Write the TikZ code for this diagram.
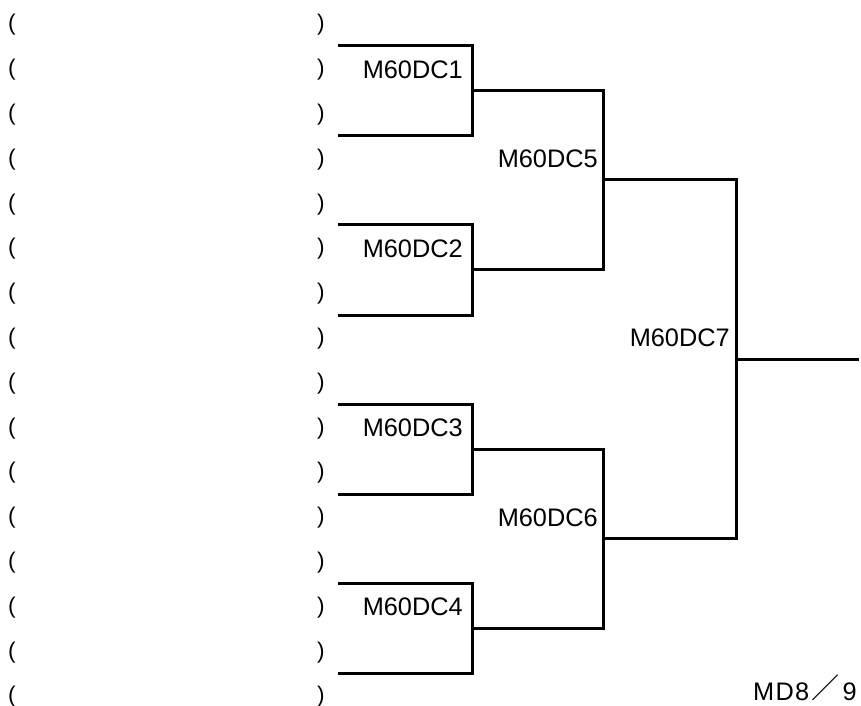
\documentclass[tikz,border=0pt]{standalone}
\usepackage{fontspec}
\setmainfont{Liberation Sans}
\newfontfamily\cjkfont{Noto Sans CJK JP}
\begin{document}
\begin{tikzpicture}[x=0.75pt,y=-0.75pt,
  bracket/.style={line width=2.25pt, line cap=rect, line join=miter},
  lbl/.style={anchor=east, inner sep=0pt, font=\fontsize{19}{21}\selectfont},
  parl/.style={inner sep=0pt, font=\fontsize{17}{20}\selectfont}]
\useasboundingbox (0,0) rectangle (861,706);
% entry rows
\foreach \i in {0,...,15} {
  \node[parl] (l\i) at (12,{25+44.8*\i}) {(};
  \node[parl] (r\i) at (321,{25+44.8*\i}) {)};
}
% first round coordinates
\foreach \k/\t in {1/46,2/225,3/404,4/583} {
  \coordinate (a\k t) at (339,\t);
  \coordinate (a\k tr) at (472,\t);
  \coordinate (a\k br) at (472,\t+90);
  \coordinate (a\k b) at (339,\t+90);
  \coordinate (a\k m) at (472,\t+45);
}
% second round
\coordinate (b5t) at (603,91);
\coordinate (b5b) at (603,270);
\coordinate (b5m) at (603,180);
\coordinate (b6t) at (603,449);
\coordinate (b6b) at (603,628);
\coordinate (b6m) at (603,538);
% final
\coordinate (c7t) at (736,180);
\coordinate (c7b) at (736,538);
\coordinate (c7m) at (736,359);
\coordinate (out) at (857,359);

\foreach \k in {1,2,3,4} {
  \draw[bracket] (a\k t) -- (a\k tr) -- (a\k br) -- (a\k b);
}
\draw[bracket] (a1m) -- (b5t) -- (b5b) -- (a2m);
\draw[bracket] (a3m) -- (b6t) -- (b6b) -- (a4m);
\draw[bracket] (b5m) -- (c7t) -- (c7b) -- (b6m);
\draw[bracket] (c7m) -- (out);

% labels
\node[lbl] (m1) at (463,70) {M60DC1};
\node[lbl] (m2) at (463,249) {M60DC2};
\node[lbl] (m3) at (463,428) {M60DC3};
\node[lbl] (m4) at (463,607) {M60DC4};
\node[lbl] (m5) at (598,159) {M60DC5};
\node[lbl] (m6) at (598,518) {M60DC6};
\node[lbl] (m7) at (730,338) {M60DC7};
\node[lbl, anchor=base east] (md) at (857,700) {M\kern1ptD\kern1pt8\hspace{2pt}\raisebox{1pt}{\cjkfont\fontsize{21}{22}\selectfont ／}\hspace{2pt}9};
\end{tikzpicture}
\end{document}
